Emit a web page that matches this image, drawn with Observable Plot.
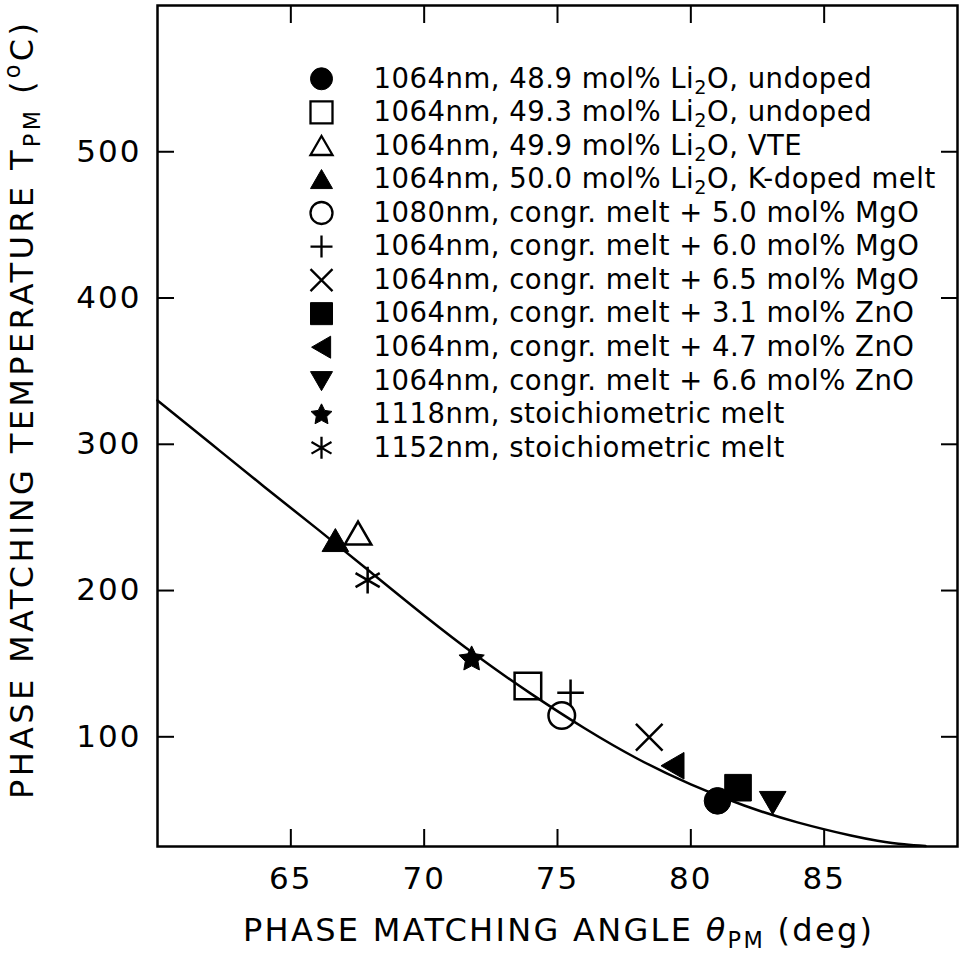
<!DOCTYPE html>
<html>
<head>
<meta charset="utf-8">
<script src="https://cdn.jsdelivr.net/npm/d3@7"></script>
<script src="https://cdn.jsdelivr.net/npm/@observablehq/plot@0.6"></script>
<style>
  html, body { margin: 0; padding: 0; background: #fff; }
</style>
</head>
<body>
<div id="chart"></div>
<script>
// ---------------- data ----------------
const seriesLabels = [
  "1064nm, 48.9 mol% Li_{2}O, undoped",
  "1064nm, 49.3 mol% Li_{2}O, undoped",
  "1064nm, 49.9 mol% Li_{2}O, VTE",
  "1064nm, 50.0 mol% Li_{2}O, K-doped melt",
  "1080nm, congr. melt + 5.0 mol% MgO",
  "1064nm, congr. melt + 6.0 mol% MgO",
  "1064nm, congr. melt + 6.5 mol% MgO",
  "1064nm, congr. melt + 3.1 mol% ZnO",
  "1064nm, congr. melt + 4.7 mol% ZnO",
  "1064nm, congr. melt + 6.6 mol% ZnO",
  "1118nm, stoichiometric melt",
  "1152nm, stoichiometric melt"
];
const seriesAngle = [81.0, 73.89, 67.52, 66.67, 75.16, 75.49, 78.44, 81.77, 79.33, 83.07, 71.78, 67.88];
const seriesTemp  = [56.2, 134.7, 239.0, 234.2, 114.6, 130.1, 99.7, 65.2, 80.2, 55.1, 153.5, 207.1];

const curveAngle = [60, 62, 64, 66, 68, 70, 72, 74, 76, 78, 80, 82, 84, 86, 87, 88, 88.8];
const curveTemp  = [330, 300.5, 271, 242, 212.5, 183, 155, 129.5, 106, 85, 67.5, 53, 41.5, 32.5, 29, 26.5, 25.3];

const xTicks = [65, 70, 75, 80, 85];
const yTicks = [100, 200, 300, 400, 500];

const xLabel = "PHASE MATCHING ANGLE ~{θ}_{PM} (deg)";
const yLabel = "PHASE MATCHING TEMPERATURE T_{PM} (^{o}C)";

// ---------------- symbols ----------------
const sym = (fn) => ({ draw(ctx, size) { fn(ctx, Math.sqrt(size / Math.PI)); } });
const poly = (ctx, pts) => { ctx.moveTo(pts[0][0], pts[0][1]); for (let k = 1; k < pts.length; k++) ctx.lineTo(pts[k][0], pts[k][1]); ctx.closePath(); };
const symCircle = sym((c, h) => { c.moveTo(h, 0); c.arc(0, 0, h, 0, 2 * Math.PI); });
const symSquare = sym((c, h) => poly(c, [[-h, -h], [h, -h], [h, h], [-h, h]]));
const symTriUp = sym((c, h) => poly(c, [[0, -0.9 * h], [h, 0.83 * h], [-h, 0.83 * h]]));
const symTriDown = sym((c, h) => poly(c, [[0, 0.9 * h], [h, -0.83 * h], [-h, -0.83 * h]]));
const symTriLeft = sym((c, h) => poly(c, [[-0.9 * h, 0], [0.83 * h, -h], [0.83 * h, h]]));
const symPlus = sym((c, h) => { c.moveTo(-h, 0); c.lineTo(h, 0); c.moveTo(0, -h); c.lineTo(0, h); });
const symTimes = sym((c, h) => { c.moveTo(-h, -h); c.lineTo(h, h); c.moveTo(-h, h); c.lineTo(h, -h); });
const symStar = sym((c, h) => {
  const pts = [];
  for (let k = 0; k < 10; k++) {
    const r = k % 2 === 0 ? h : h * 0.5;
    const a = -Math.PI / 2 + k * Math.PI / 5;
    pts.push([r * Math.cos(a), r * Math.sin(a) + 0.05 * h]);
  }
  poly(c, pts);
});
const symAsterisk = sym((c, h) => {
  const u = h * 1.05 * Math.cos(Math.PI / 6), t = h * 1.05 * Math.sin(Math.PI / 6);
  c.moveTo(0, -h); c.lineTo(0, h);
  c.moveTo(-u, -t); c.lineTo(u, t);
  c.moveTo(-u, t); c.lineTo(u, -t);
});

// style per series: [symbol, filled]
const seriesStyle = [
  [symCircle, true], [symSquare, false], [symTriUp, false], [symTriUp, true],
  [symCircle, false], [symPlus, false], [symTimes, false], [symSquare, true],
  [symTriLeft, true], [symTriDown, true], [symStar, true], [symAsterisk, false]
];

// ---------------- layout constants ----------------
const pointR = 13.3, legendR = 11;
const legendSymX = 66.15, legendTextX = 68.1, legendTop = 549.9, legendStep = 22.94;

const idx = seriesLabels.map((_, i) => i);

const dotMarks = idx.map(i => {
  const [s, filled] = seriesStyle[i];
  return Plot.dot([i], {
    x: j => seriesAngle[j], y: j => seriesTemp[j], symbol: s, r: pointR,
    fill: filled ? "#000" : "none", stroke: "#000", strokeWidth: filled ? 1 : 2.5
  });
});
const legendMarks = idx.map(i => {
  const [s, filled] = seriesStyle[i];
  return Plot.dot([i], {
    x: () => legendSymX, y: j => legendTop - j * legendStep, symbol: s, r: legendR,
    fill: filled ? "#000" : "none", stroke: "#000", strokeWidth: filled ? 1 : 2.3
  });
});

const plot = Plot.plot({
  width: 959,
  height: 954,
  marginLeft: 157,
  marginRight: 2,
  marginTop: 5,
  marginBottom: 108,
  x: { domain: [60, 90] },
  y: { domain: [25, 600] },
  style: { fontFamily: "'DejaVu Sans', sans-serif", fontSize: "31px", color: "#000", background: "#fff", overflow: "visible" },
  marks: [
    Plot.line(curveAngle.map((_, i) => i), {
      x: i => curveAngle[i], y: i => curveTemp[i], curve: "natural", stroke: "#000", strokeWidth: 2.5
    }),
    ...dotMarks,
    ...legendMarks,
    Plot.text(idx, {
      x: () => legendTextX, y: j => legendTop - j * legendStep, text: j => seriesLabels[j],
      textAnchor: "start", lineAnchor: "middle", fontSize: 27.5, fill: "#000"
    }),
    Plot.axisX({ anchor: "bottom", ticks: xTicks, tickSize: -17, tickPadding: 37, strokeWidth: 2, label: null, fontSize: 31 }),
    Plot.axisX({ anchor: "top", ticks: xTicks, tickSize: -17, tickFormat: () => "", strokeWidth: 2, label: null }),
    Plot.axisY({ anchor: "left", ticks: yTicks, tickSize: -17, tickPadding: 33, strokeWidth: 2, label: null, fontSize: 31 }),
    Plot.axisY({ anchor: "right", ticks: yTicks, tickSize: -17, tickFormat: () => "", strokeWidth: 2, label: null }),
    Plot.frame({ stroke: "#000", strokeWidth: 2.5 }),
    Plot.text([xLabel], { text: d => d, frameAnchor: "bottom", dy: 72, lineAnchor: "top", textAnchor: "middle", fontSize: 32, fill: "#000" }),
    Plot.text([yLabel], { text: d => d, frameAnchor: "left", dx: -147, dy: -15, rotate: -90, lineAnchor: "top", textAnchor: "middle", fontSize: 32, fill: "#000" })
  ]
});

document.getElementById("chart").appendChild(plot);

// ---------------- rich text (sub/superscripts, italic) ----------------
function rich(el, F) {
  const s = el.textContent;
  if (!/[_^~]\{/.test(s)) return;
  const segs = [];
  const re = /([_^~])\{([^}]*)\}/g;
  let last = 0, m;
  while ((m = re.exec(s))) {
    if (m.index > last) segs.push({ type: "n", t: s.slice(last, m.index) });
    segs.push({ type: m[1], t: m[2] });
    last = re.lastIndex;
  }
  if (last < s.length) segs.push({ type: "n", t: s.slice(last) });
  while (el.firstChild) el.removeChild(el.firstChild);
  const ns = "http://www.w3.org/2000/svg";
  let cur = 0;
  for (const g of segs) {
    const target = g.type === "_" ? 0.22 * F : g.type === "^" ? -0.4 * F : 0;
    const ts = document.createElementNS(ns, "tspan");
    ts.textContent = g.t;
    if (target - cur !== 0) ts.setAttribute("dy", target - cur);
    cur = target;
    if (g.type === "_" || g.type === "^") ts.setAttribute("font-size", 0.7 * F);
    if (g.type === "~") ts.setAttribute("font-style", "italic");
    el.appendChild(ts);
  }
}

const svg = d3.select(plot);
svg.selectAll('g[aria-label="x-axis tick label"] text, g[aria-label="y-axis tick label"] text').style("letter-spacing", "2px");
const legendSet = new Set(seriesLabels);
svg.selectAll("text").each(function () {
  const s = this.textContent;
  if (s === xLabel) {
    rich(this, 32);
    this.setAttribute("textLength", 629);
    this.setAttribute("lengthAdjust", "spacing");
  } else if (s === yLabel) {
    rich(this, 32);
    this.setAttribute("textLength", 776);
    this.setAttribute("lengthAdjust", "spacing");
  } else if (legendSet.has(s)) {
    this.style.letterSpacing = "0.5px";
    rich(this, 27.5);
  }
});
</script>
</body>
</html>
